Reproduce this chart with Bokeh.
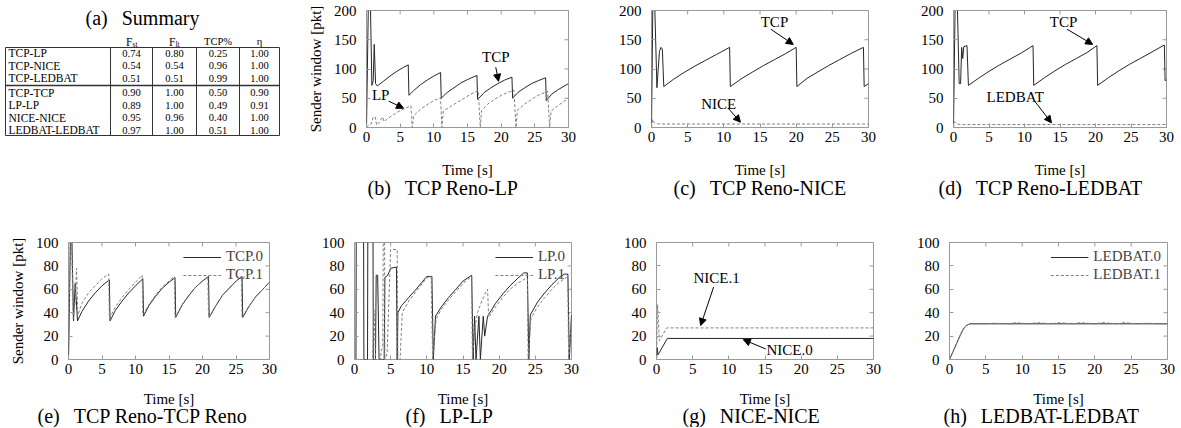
import math
from bokeh.plotting import figure
from bokeh.layouts import row, column
from bokeh.models import Range1d, FixedTicker, Label, Arrow, NormalHead, Title
from bokeh.embed import file_html
from bokeh.resources import INLINE
from bokeh.core.properties import value

# ---------------- data ----------------
# (a) summary table
pairs = ["TCP-LP", "TCP-NICE", "TCP-LEDBAT", "TCP-TCP", "LP-LP", "NICE-NICE", "LEDBAT-LEDBAT"]
f_st = ["0.74", "0.54", "0.51", "0.90", "0.89", "0.95", "0.97"]
f_lt = ["0.80", "0.54", "0.51", "1.00", "1.00", "0.96", "1.00"]
tcp_pct = ["0.25", "0.96", "0.99", "0.50", "0.49", "0.40", "0.51"]
eta = ["1.00", "1.00", "1.00", "0.90", "0.91", "1.00", "1.00"]

x_ticks = [0, 5, 10, 15, 20, 25, 30]
y_ticks_top = [0, 50, 100, 150, 200]
y_ticks_bot = [0, 20, 40, 60, 80, 100]

# (b) TCP Reno - LP
b_t_tcp = [0, 0.3, 0.55, 0.8, 1.0, 1.15, 1.35, 1.6, 2.5, 3.5, 4.5, 5.5, 6.2, 6.3, 7, 8, 9, 10, 11, 11.1,
           12, 13, 14, 15, 16.4, 16.5, 17.5, 18.5, 19.5, 20.5, 21.6, 21.7, 22.5, 23.5, 24.5, 25.5, 26.6,
           26.7, 27.5, 28.5, 30]
b_w_tcp = [0, 230, 230, 72, 80, 142, 75, 71, 79, 88, 96, 103, 107, 55, 63, 73, 81, 88, 94, 50,
           60, 68, 76, 82, 89, 48, 60, 68, 75, 81, 86, 50, 60, 68, 75, 80, 85,
           46, 57, 65, 75]
b_t_lp = [0, 0.3, 0.7, 1.0, 1.3, 1.5, 1.8, 2.4, 2.6, 3.0, 4.0, 5.0, 6.0, 6.6, 6.8, 7.0, 8, 9, 10, 11,
          11.2, 11.4, 12.5, 13.5, 14.5, 15.5, 16.6, 16.9, 17.1, 18, 19, 20, 21, 21.9, 22.2, 22.4, 23.5,
          24.5, 25.5, 26.9, 27.2, 27.4, 28.5, 30]
b_w_lp = [0, 4, 6, 18, 18, 4, 8, 18, 10, 14, 22, 29, 34, 37, 0, 20, 31, 39, 46, 51,
          0, 28, 36, 43, 50, 57, 63, 0, 29, 40, 48, 55, 60, 64, 0, 29, 40,
          48, 55, 62, 0, 28, 38, 50]

# (c) TCP Reno - NICE
c_t_tcp = [0, 0.2, 0.4, 0.75, 1.1, 1.3, 1.5, 1.7, 3, 4.5, 6, 7.5, 9, 10.8, 10.9, 12.5, 14, 15.5, 17,
           18.5, 20.0, 20.1, 21.5, 23, 24.5, 26, 27.5, 29.3, 29.4, 30]
c_w_tcp = [0, 230, 230, 68, 130, 137, 134, 70, 82, 94, 105, 115, 125, 137, 70, 84, 95, 106, 116,
           126, 137, 70, 84, 95, 106, 116, 126, 137, 70, 75]
c_t_nice = [0, 0.15, 0.4, 1.0, 30]
c_w_nice = [0, 14, 8, 6, 6]

# (d) TCP Reno - LEDBAT
d_t_tcp = [0, 0.25, 0.5, 0.8, 1.0, 1.15, 1.3, 1.45, 1.9, 2.1, 3.5, 5, 6.5, 8, 9.5, 11.2, 11.3, 12.8,
           14.3, 15.8, 17.3, 18.8, 20.2, 20.3, 21.8, 23.3, 24.8, 26.3, 27.8, 29.7, 29.8, 30]
d_w_tcp = [0, 230, 230, 75, 75, 137, 118, 138, 140, 72, 84, 96, 107, 117, 127, 140, 72, 85,
           97, 108, 118, 128, 140, 72, 85, 97, 108, 118, 128, 141, 80, 82]
d_t_led = [0, 0.15, 0.4, 1.0, 30]
d_w_led = [0, 10, 6, 5, 5]

# (e) TCP Reno - TCP Reno
e_t0 = [0, 0.3, 0.5, 0.75, 1.0, 1.35, 2, 3, 4, 5, 6.1, 6.2, 7, 8, 9, 10, 11.1, 11.2, 12, 13, 14, 15,
        15.9, 16.0, 17, 18, 19, 20, 20.9, 21.0, 22, 23, 24, 25, 25.9, 26.0, 27, 28, 29, 30]
e_w0 = [0, 105, 105, 33, 65, 33, 41, 50, 57, 63, 68, 33, 42, 50, 57, 63, 69, 37, 46, 54, 61, 66,
        70, 36, 47, 55, 62, 67, 71, 36, 46, 55, 61, 67, 71, 36, 46, 54, 60, 66]
e_t1 = [0, 0.25, 0.45, 0.7, 1.0, 1.2, 1.4, 2, 3, 4, 5, 6.0, 6.1, 7, 8, 9, 10, 11.0, 11.1, 12, 13, 14,
        15, 15.8, 15.9, 17, 18, 19, 20, 20.8, 20.9, 22, 23, 24, 25, 25.8, 25.9, 27, 28, 29, 30]
e_w1 = [0, 105, 105, 35, 50, 78, 38, 48, 57, 63, 69, 73, 35, 45, 53, 60, 66, 72, 38, 47, 55, 62,
        67, 71, 36, 47, 55, 62, 67, 71, 36, 46, 55, 61, 67, 71, 36, 46, 54, 60, 66]

# (f) LP - LP
f_t0 = [0, 0.2, 0.25, 1.25, 1.3, 1.8, 1.85, 2.55, 2.6, 2.9, 3.0, 3.2, 3.4, 4.1, 4.2, 4.6, 5.0, 5.8,
        5.9, 6.0, 6.5, 7.5, 8.5, 10.0, 10.7, 10.9, 11.2, 12, 13, 14, 15, 16.2, 16.4, 16.6, 16.8, 17.2,
        17.4, 17.8, 18.0, 18.4, 19.5, 20.5, 21.5, 22.5, 23.4, 23.9, 24.1, 24.3, 25.3, 26.3, 27.3, 28.3,
        29.0, 29.5, 29.7, 30]
f_w0 = [0, 0, 130, 130, 0, 0, 130, 130, 0, 0, 72, 72, 0, 0, 70, 72, 78, 79,
        0, 40, 46, 53, 60, 71, 71, 0, 37, 45, 53, 60, 67, 72, 0, 37, 0, 37,
        0, 37, 20, 37, 48, 56, 63, 69, 74, 74, 0, 38, 49, 57, 64, 70,
        73, 73, 0, 38]
f_t1 = [0, 2.5, 2.7, 2.9, 3.6, 3.7, 3.9, 4.0, 4.15, 4.2, 4.5, 5.0, 5.9, 6.0, 6.3, 6.6, 7.5, 8.5, 10.0,
        10.6, 10.8, 11.3, 12, 13, 14, 15, 16.2, 16.3, 16.6, 17.0, 17.6, 18.2, 18.4, 18.55, 19.5, 20.5,
        21.5, 22.5, 23.6, 23.9, 24.0, 24.4, 25.3, 26.3, 27.3, 28.3, 29.3, 29.5, 29.6, 30]
f_w1 = [0, 0, 42, 0, 0, 8, 10, 130, 130, 0, 5, 94, 94, 0, 0, 40, 50, 58, 70,
        71, 0, 35, 43, 51, 58, 65, 71, 0, 25, 40, 50, 58, 60, 36, 45, 53,
        60, 65, 69, 69, 0, 35, 45, 53, 60, 66, 70, 70, 0, 33]

# (g) NICE - NICE
g_t0 = [0, 0.1, 0.2, 1.5, 30]
g_w0 = [0, 10, 4, 18, 18]
g_t1 = [0, 0.15, 0.4, 1.4, 30]
g_w1 = [0, 47, 16, 27, 27]

# (h) LEDBAT - LEDBAT
h_t0 = [0, 0.5, 1.0, 1.5, 1.9, 2.3, 2.8, 30]
h_w0 = [0, 7, 14, 21, 26, 29, 30.5, 30.5]
h_t1 = [0, 0.5, 1.0, 1.5, 1.9, 2.3, 2.8, 5, 6, 8.5, 9, 11, 12, 14, 15, 17, 18, 20, 21, 23, 24, 26,
        27, 29, 30]
h_w1 = [0, 7, 14, 21, 26, 29, 30.5, 30.5, 31, 30.5, 31.5, 30.5, 31.5, 30.5, 31.5, 30.5, 31.5, 30.5,
        31.5, 30.5, 31.5, 30.5, 31, 30.5, 30.5]

# ---------------- style ----------------
FONT = "Liberation Serif"
FRAME = "#9a9a9a"
SOLID = "#262626"
DASHC = "#808080"
DASH = "3 2"
GAP = "\u2002\u2009"   # wide gap between sub-figure letter and caption text


def style_axis(ax, ticks):
    ax.ticker = FixedTicker(ticks=ticks)
    ax.axis_line_color = None
    ax.major_tick_in = 4
    ax.major_tick_out = 0
    ax.major_tick_line_color = FRAME
    ax.minor_tick_line_color = None
    ax.major_label_text_font = FONT
    ax.major_label_text_font_size = "15px"
    ax.major_label_text_color = "black"
    ax.axis_label_text_font = FONT
    ax.axis_label_text_font_size = "15px"
    ax.axis_label_text_font_style = "normal"
    ax.axis_label_text_color = "black"


def make_panel(w, h, bl, br, bt, bb, ymax, yticks, ylabel, caption, cap_off,
               xlab_standoff=14, cap_standoff=-10):
    p = figure(width=w, height=h, min_border_left=bl, min_border_right=br,
               min_border_top=bt, min_border_bottom=bb, frame_align=False,
               x_range=Range1d(0, 30), y_range=Range1d(0, ymax),
               output_backend="svg", toolbar_location=None,
               outline_line_color=FRAME, outline_line_width=1,
               background_fill_color="white", border_fill_color="white")
    p.xgrid.visible = False
    p.ygrid.visible = False
    xa = p.xaxis[0]
    ya = p.yaxis[0]
    style_axis(xa, x_ticks)
    xa.major_label_standoff = 4
    xa.axis_label = "Time [s]"
    xa.axis_label_standoff = xlab_standoff
    style_axis(ya, yticks)
    ya.major_label_standoff = 10
    if ylabel:
        ya.axis_label = ylabel
        ya.axis_label_standoff = 7
    # mirrored inward ticks on the top and right edges of the frame
    p.ray(x=x_ticks, y=[ymax] * len(x_ticks), length=4, length_units="screen",
          angle=-math.pi / 2, line_color=FRAME, line_width=1)
    p.ray(x=[30] * len(yticks), y=yticks, length=4, length_units="screen",
          angle=math.pi, line_color=FRAME, line_width=1)
    p.add_layout(Title(text=caption, align="left", offset=cap_off, text_font=FONT,
                       text_font_size="20px", text_font_style="normal", text_color="black",
                       standoff=cap_standoff, vertical_align="top"), "below")
    return p


def annotate(p, text, tx, ty, x0, y0, x1, y1, align="center"):
    p.add_layout(Label(x=tx, y=ty, text=text, text_align=align, text_baseline="middle",
                       text_font=FONT, text_font_size="15px", text_color="black"))
    p.add_layout(Arrow(x_start=x0, y_start=y0, x_end=x1, y_end=y1, line_color="black",
                       line_width=1, end=NormalHead(size=7, fill_color="black",
                                                    line_color="black", line_width=1)))


def style_legend(p):
    lg = p.legend[0]
    lg.location = "top_right"
    lg.background_fill_alpha = 0
    lg.border_line_color = None
    lg.label_text_font = FONT
    lg.label_text_font_size = "15px"
    lg.glyph_width = 38
    lg.glyph_height = 14
    lg.label_height = 14
    lg.spacing = 1
    lg.padding = 2
    lg.margin = 6


H1, H2 = 215, 212

# ---------------- (a) table ----------------
TW = 300
tbl = figure(width=TW, height=H1, x_range=Range1d(0, TW), y_range=Range1d(H1, 0), min_border=0,
             frame_align=False, x_axis_location=None, y_axis_location=None, output_backend="svg",
             toolbar_location=None, outline_line_color=None)
tbl.grid.visible = False

col_edges = [5, 110, 152, 196, 239, 279]
box_top, sep_y, box_bot = 47, 85, 135
pitch = 12.5
row_y = [box_top + 5.5 + i * pitch for i in range(3)] + [sep_y + 7 + i * pitch for i in range(4)]
centers = [(col_edges[i] + col_edges[i + 1]) / 2 for i in range(1, 5)]
NFS = "11.5px"
VFS = "10.5px"

tbl.text(x=[142], y=[17], text=["(a)" + GAP + "Summary"], text_font=value(FONT),
         text_font_size=value("20px"), text_align="center", text_baseline="middle", text_color="black")
tbl.text(x=[8] * len(pairs), y=row_y, text=pairs, text_font=value(FONT),
         text_font_size=value(NFS), text_align="left", text_baseline="middle", text_color="black")
for cx, col in zip(centers, [f_st, f_lt, tcp_pct, eta]):
    tbl.text(x=[cx] * len(col), y=row_y, text=col, text_font=value(FONT),
             text_font_size=value(VFS), text_align="center", text_baseline="middle",
             text_color="black")
hy = 41
tbl.text(x=[centers[0] + 1, centers[1] + 1], y=[hy, hy], text=["F", "F"], text_font=value(FONT),
         text_font_size=value(NFS), text_align="right", text_baseline="middle", text_color="black")
tbl.text(x=[centers[0] + 1, centers[1] + 1], y=[hy + 3, hy + 3], text=["st", "lt"],
         text_font=value(FONT), text_font_size=value("7.5px"), text_align="left",
         text_baseline="middle", text_color="black")
tbl.text(x=[centers[2], centers[3]], y=[hy, hy], text=["TCP%", "\u03b7"], text_font=value(FONT),
         text_font_size=value(VFS), text_align="center", text_baseline="middle", text_color="black")
tbl.segment(x0=col_edges, y0=[box_top] * len(col_edges), x1=col_edges, y1=[box_bot] * len(col_edges),
            line_color="#333333", line_width=1)
tbl.segment(x0=[col_edges[0]] * 2, y0=[box_top, box_bot], x1=[col_edges[-1]] * 2, y1=[box_top, box_bot],
            line_color="#333333", line_width=1)
tbl.segment(x0=[col_edges[0]], y0=[sep_y], x1=[col_edges[-1]], y1=[sep_y], line_color="#333333",
            line_width=1.5)

# ---------------- top row ----------------
BT1, BB1 = 10, 88
TOPKW = dict(xlab_standoff=17, cap_standoff=-8)
pb = make_panel(290, H1, 66, 22, BT1, BB1, 200, y_ticks_top,
                "Sender window [pkt]", "(b)" + GAP + "TCP Reno-LP", 1, **TOPKW)
pb.line(b_t_tcp, b_w_tcp, line_color=SOLID, line_width=1)
pb.line(b_t_lp, b_w_lp, line_color=DASHC, line_width=1, line_dash=DASH)
annotate(pb, "TCP", 19.2, 120, 19.2, 103, 19.6, 79)
annotate(pb, "LP", 2.1, 55, 3.3, 45, 5.5, 33)

pc = make_panel(292, H1, 61, 14, BT1, BB1, 200, y_ticks_top,
                None, "(c)" + GAP + "TCP Reno-NICE", 22, **TOPKW)
pc.line(c_t_tcp, c_w_tcp, line_color=SOLID, line_width=1)
pc.line(c_t_nice, c_w_nice, line_color=DASHC, line_width=1, line_dash=DASH)
annotate(pc, "TCP", 17, 180, 16.5, 168, 19.6, 142)
annotate(pc, "NICE", 9.3, 41, 10.6, 33, 12.3, 9)

pd = make_panel(298, H1, 71, 14, BT1, BB1, 200, y_ticks_top,
                None, "(d)" + GAP + "TCP Reno-LEDBAT", -15, **TOPKW)
pd.line(d_t_tcp, d_w_tcp, line_color=SOLID, line_width=1)
pd.line(d_t_led, d_w_led, line_color=DASHC, line_width=1, line_dash=DASH)
annotate(pd, "TCP", 15.5, 180, 16, 168, 19.6, 142)
annotate(pd, "LEDBAT", 8.7, 52, 11.5, 44, 13.8, 8)

# ---------------- bottom row ----------------
BT2, BB2 = 27, 68
pe = make_panel(305, H2, 68, 36, BT2, BB2, 100, y_ticks_bot,
                "Sender window [pkt]", "(e)" + GAP + "TCP Reno-TCP Reno", -31)
pe.line(e_t0, e_w0, line_color=SOLID, line_width=1, legend_label="TCP.0")
pe.line(e_t1, e_w1, line_color=DASHC, line_width=1, line_dash=DASH, legend_label="TCP.1")
style_legend(pe)

pf = make_panel(293, H2, 49, 27, BT2, BB2, 100, y_ticks_bot,
                None, "(f)" + GAP + "LP-LP", 51)
pf.line(f_t0, f_w0, line_color=SOLID, line_width=1, legend_label="LP.0")
pf.line(f_t1, f_w1, line_color=DASHC, line_width=1, line_dash=DASH, legend_label="LP.1")
style_legend(pf)

pg = make_panel(294, H2, 58, 19, BT2, BB2, 100, y_ticks_bot,
                None, "(g)" + GAP + "NICE-NICE", 26)
pg.line(g_t0, g_w0, line_color=SOLID, line_width=1)
pg.line(g_t1, g_w1, line_color=DASHC, line_width=1, line_dash=DASH)
annotate(pg, "NICE.1", 8.3, 70, 7.9, 62, 6.1, 29)
annotate(pg, "NICE.0", 15.2, 8, 15.1, 9, 12.0, 17, align="left")

ph = make_panel(288, H2, 57, 13, BT2, BB2, 100, y_ticks_bot,
                None, "(h)" + GAP + "LEDBAT-LEDBAT", -6)
ph.line(h_t0, h_w0, line_color=SOLID, line_width=1, legend_label="LEDBAT.0")
ph.line(h_t1, h_w1, line_color=DASHC, line_width=1, line_dash=DASH, legend_label="LEDBAT.1")
style_legend(ph)

layout = column(row(tbl, pb, pc, pd), row(pe, pf, pg, ph))
open("out.html", "w").write(file_html(layout, INLINE))
